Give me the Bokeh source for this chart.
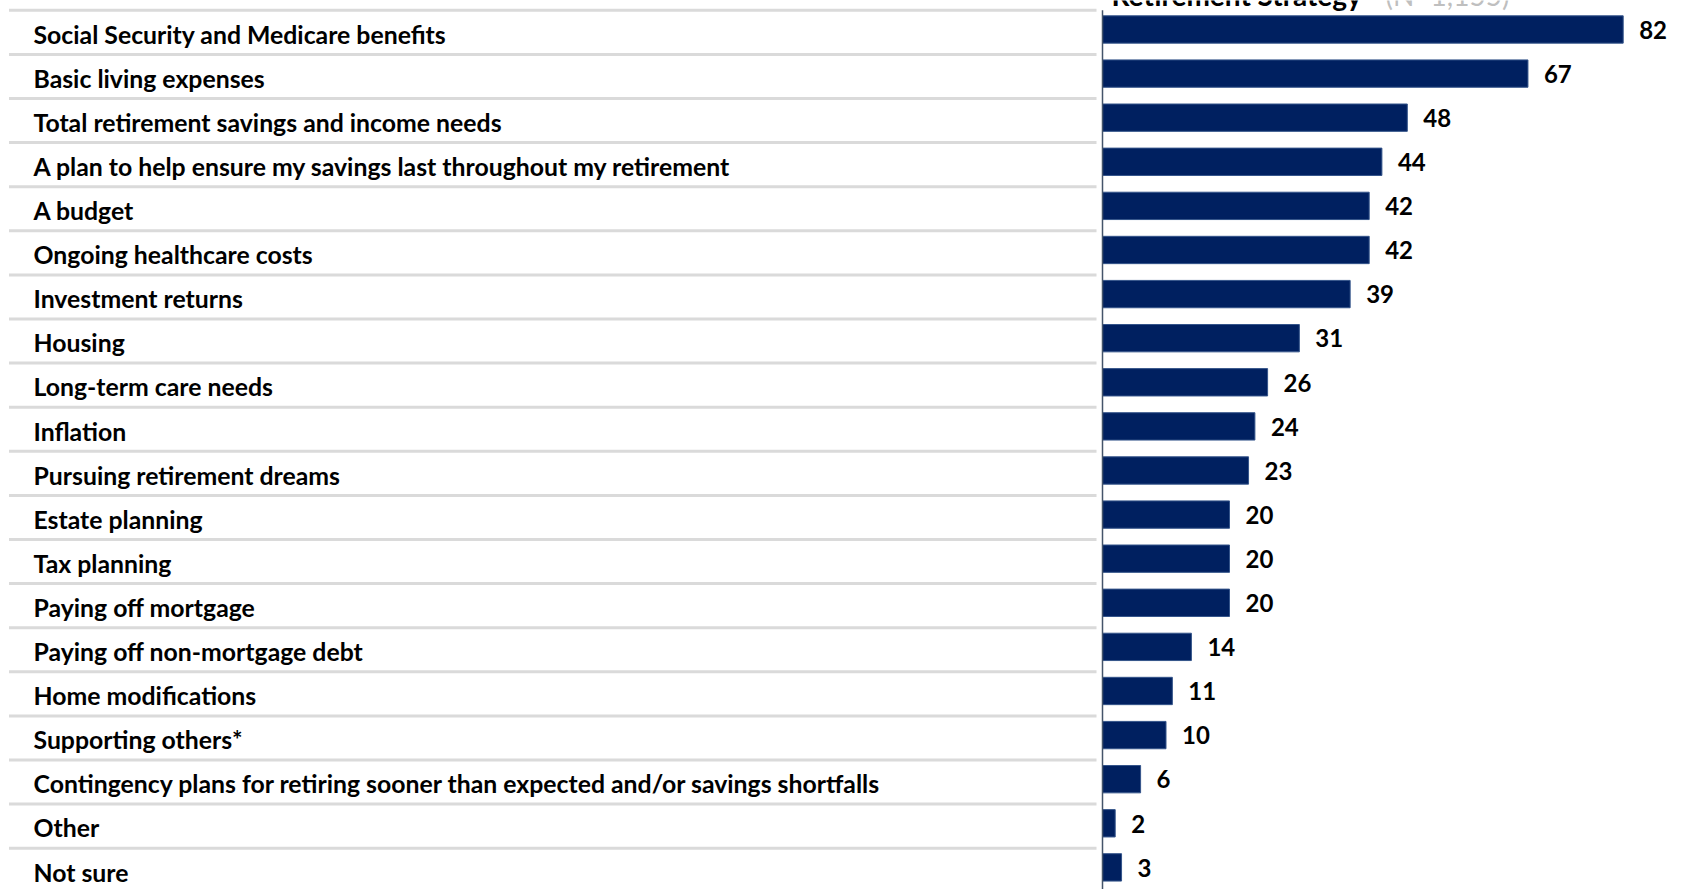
from bokeh.plotting import figure
from bokeh.models import ColumnDataSource, Range1d
from bokeh.transform import dodge
from bokeh.core.properties import value
from bokeh.embed import file_html
from bokeh.resources import INLINE

categories = [
    "Social Security and Medicare benefits",
    "Basic living expenses",
    "Total retirement savings and income needs",
    "A plan to help ensure my savings last throughout my retirement",
    "A budget",
    "Ongoing healthcare costs",
    "Investment returns",
    "Housing",
    "Long-term care needs",
    "Inflation",
    "Pursuing retirement dreams",
    "Estate planning",
    "Tax planning",
    "Paying off mortgage",
    "Paying off non-mortgage debt",
    "Home modifications",
    "Supporting others*",
    "Contingency plans for retiring sooner than expected and/or savings shortfalls",
    "Other",
    "Not sure",
]
values = [82, 67, 48, 44, 42, 42, 39, 31, 26, 24, 23, 20, 20, 20, 14, 11, 10, 6, 2, 3]
title_main = "Retirement Strategy"
title_note = "(N=1,155)"

# ---- layout constants (pixels) ----
W, H = 1690, 889
PX_PER_UNIT = 6.35          # horizontal scale of bars
AXIS_PX = 1102              # canvas x of the value axis (x = 0)
ROW_PX = 44.1               # row pitch
TOP_OFFSET = 9.8            # canvas y of first separator
LABEL_PX = 33               # canvas x of category labels
SEP_START_PX = 8.5          # canvas x where separators start
SEP_END_PX = 1096           # canvas x where separators end
TITLE_PX = 1111             # canvas x of header (cut off at top)
NOTE_PX = 1385
TITLE_BASE_PX = -6          # header anchor (mostly above the visible area)

x_start = -AXIS_PX / PX_PER_UNIT
x_end = (W - AXIS_PX) / PX_PER_UNIT
y_top = -0.5 - TOP_OFFSET / ROW_PX
y_bottom = y_top + H / ROW_PX

n = len(categories)
src = ColumnDataSource(dict(
    cat=categories,
    val=values,
    row=list(range(n)),
    sep=[i - 0.5 for i in range(n)],
    txt=[str(v) for v in values],
))

p = figure(width=W, height=H, output_backend="svg", toolbar_location=None,
           x_range=Range1d(x_start, x_end), y_range=Range1d(y_bottom, y_top),
           min_border=0, min_border_left=0, min_border_right=0,
           min_border_top=0, min_border_bottom=0)
p.axis.visible = False
p.grid.visible = False
p.outline_line_color = None
p.background_fill_color = "white"
p.border_fill_color = "white"

# separators in the label column
sep_x0 = x_start + SEP_START_PX / PX_PER_UNIT
sep_x1 = x_start + SEP_END_PX / PX_PER_UNIT
p.segment(x0=sep_x0, x1=sep_x1, y0="sep", y1="sep", source=src,
          line_color="#dadada", line_width=3)

# bars
p.hbar(y=dodge("row", -0.065), right="val", left=0, height=0.62, source=src,
       fill_color="#002060", line_color="#34548a", line_width=1)

# value axis line
p.segment(x0=0, x1=0, y0=-0.5, y1=y_bottom, line_color="#44546a", line_width=1.5)

# category labels
p.text(x=x_start + LABEL_PX / PX_PER_UNIT, y=dodge("row", 0.04), text="cat", source=src,
       text_font=value("Lato"), text_font_style="bold", text_font_size="24.8px",
       text_color="#000000", text_baseline="middle", text_align="left")

# value labels
p.text(x="val", y=dodge("row", -0.06), text="txt", source=src, x_offset=16,
       text_font=value("Lato"), text_font_style="bold", text_font_size="24px",
       text_color="#000000", text_baseline="middle", text_align="left")

# header, mostly cut off by the top edge (as in the reference)
title_y = y_top + TITLE_BASE_PX / ROW_PX
p.text(x=[(TITLE_PX - AXIS_PX) / PX_PER_UNIT], y=[title_y], text=[title_main],
       text_font=value("Lato"), text_font_style="bold", text_font_size="28px",
       text_color="#000000", text_baseline="alphabetic", text_align="left")
p.text(x=[(NOTE_PX - AXIS_PX) / PX_PER_UNIT], y=[title_y], text=[title_note],
       text_font=value("Lato"), text_font_size="28px",
       text_color="#bfbfbf", text_baseline="alphabetic", text_align="left")

open("out.html", "w").write(file_html(p, INLINE))
